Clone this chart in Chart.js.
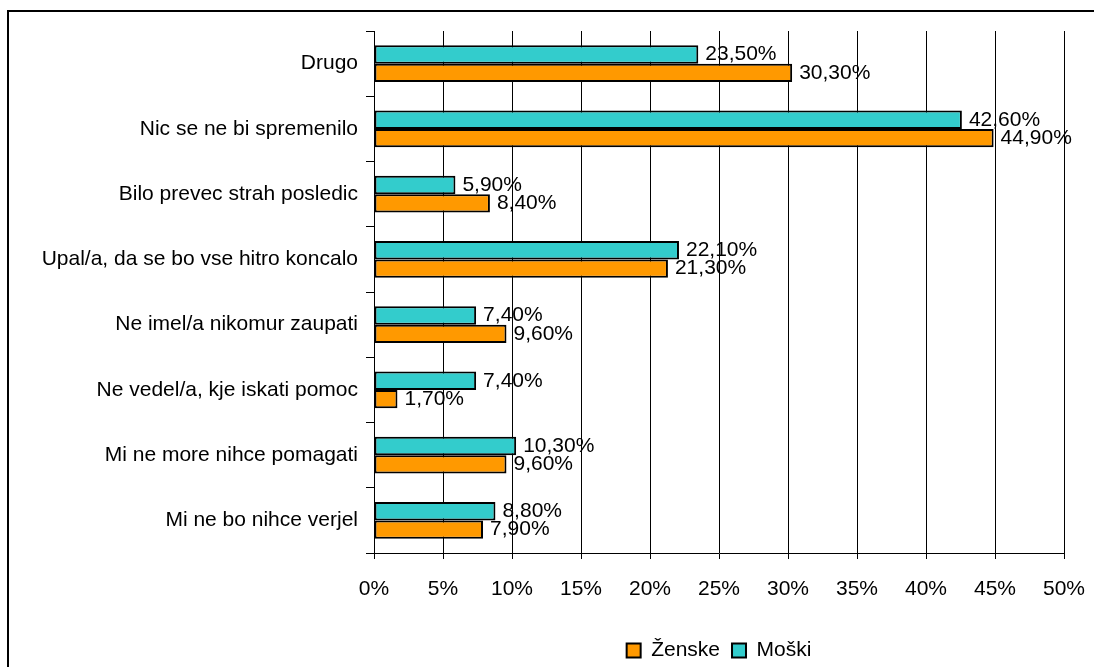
<!DOCTYPE html>
<html>
<head>
<meta charset="utf-8">
<script src="https://cdn.jsdelivr.net/npm/chart.js@4"></script>
<style>
  body { margin: 0; overflow: hidden; background: #fff; }
  #frame { position: absolute; left: 7px; top: 10px; width: 1200px; height: 800px; border: 2px solid #000; }
  #chart { position: absolute; left: 0; top: 0; }
</style>
</head>
<body>
<div id="frame"></div>
<canvas id="chart" width="1094" height="680"></canvas>
<script>
const categories = [
    "Drugo",
    "Nic se ne bi spremenilo",
    "Bilo prevec strah posledic",
    "Upal/a, da se bo vse hitro koncalo",
    "Ne imel/a nikomur zaupati",
    "Ne vedel/a, kje iskati pomoc",
    "Mi ne more nihce pomagati",
    "Mi ne bo nihce verjel",
]
const moskiValues = [23.5, 42.6, 5.9, 22.1, 7.4, 7.4, 10.3, 8.8]
const zenskeValues = [30.3, 44.9, 8.4, 21.3, 9.6, 1.7, 9.6, 7.9]

Chart.defaults.font.family = '"Liberation Sans", Arial, sans-serif'
Chart.defaults.font.size = 21
Chart.defaults.color = "#000"

function formatPercent(value) {
    return value.toFixed(2).replace(".", ",") + "%"
}

// labels right of each bar end
const valueLabels = {
    id: "valueLabels",
    afterDatasetsDraw(chart) {
        const { ctx } = chart
        ctx.save()
        ctx.font = '21px "Liberation Sans", Arial, sans-serif'
        ctx.fillStyle = "#000"
        ctx.textAlign = "left"
        ctx.textBaseline = "middle"
        chart.data.datasets.forEach((dataset, i) => {
            const meta = chart.getDatasetMeta(i)
            meta.data.forEach((bar, j) => {
                ctx.fillText(formatPercent(dataset.data[j]), bar.x + 7, bar.y)
            })
        })
        ctx.restore()
    },
}

new Chart(document.getElementById("chart"), {
    type: "bar",
    data: {
        labels: categories,
        datasets: [
            {
                label: "Moški",
                data: moskiValues,
                backgroundColor: "#33CCCC",
                borderColor: "#000",
                borderWidth: 2,
                borderSkipped: false,
            },
            {
                label: "Ženske",
                data: zenskeValues,
                backgroundColor: "#FF9900",
                borderColor: "#000",
                borderWidth: 2,
                borderSkipped: false,
            },
        ],
    },
    options: {
        indexAxis: "y",
        responsive: false,
        animation: false,
        categoryPercentage: 0.56,
        barPercentage: 1,
        layout: { padding: { top: 31, right: 30, bottom: 9, left: 0 } },
        scales: {
            x: {
                min: 0,
                max: 50,
                ticks: { stepSize: 5, padding: 18, callback: (v) => v + "%" },
                grid: { color: "#000", lineWidth: 1, tickLength: 6 },
                border: { color: "#000", width: 1 },
                afterFit: (s) => {
                    s.height = 75
                    s.paddingRight = 0
                },
            },
            y: {
                ticks: { padding: 8 },
                grid: { offset: true, drawOnChartArea: false, color: "#000", tickLength: 8 },
                border: { color: "#000", width: 1 },
                afterFit: (s) => { s.width = 374 },
            },
        },
        plugins: {
            tooltip: { enabled: false },
            legend: {
                position: "bottom",
                fullSize: false,
                reverse: true,
                labels: { boxWidth: 14, boxHeight: 14, padding: 12, font: { size: 21 } },
            },
        },
    },
    plugins: [valueLabels],
})
</script>
</body>
</html>
